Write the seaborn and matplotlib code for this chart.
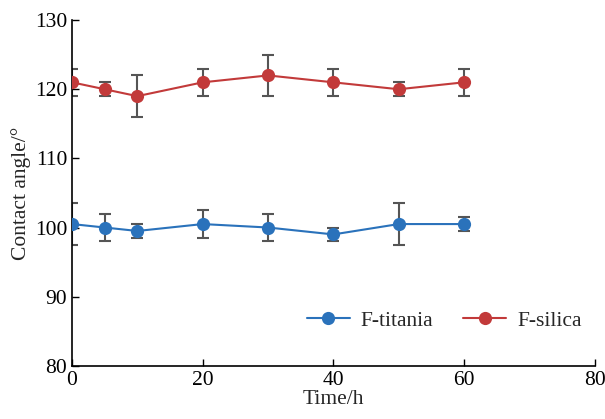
import numpy as np
import pandas as pd
import seaborn as sns
import matplotlib.pyplot as plt

time_h = [0, 5, 10, 20, 30, 40, 50, 60]
titania = [100.5, 100, 99.5, 100.5, 100, 99, 100.5, 100.5]
titania_err = [3, 2, 1, 2, 2, 1, 3, 1]
silica = [121, 120, 119, 121, 122, 121, 120, 121]
silica_err = [2, 1, 3, 2, 3, 2, 1, 2]

sns.set_style('ticks')
plt.rcParams['font.family'] = ['Liberation Serif', 'DejaVu Serif']
plt.rcParams['xtick.direction'] = 'in'
plt.rcParams['ytick.direction'] = 'in'

df = pd.DataFrame({
    'time': time_h * 2,
    'angle': titania + silica,
    'err': titania_err + silica_err,
    'sample': ['F-titania'] * len(time_h) + ['F-silica'] * len(time_h),
})
colors = {'F-titania': '#2a72bb', 'F-silica': '#c23a3a'}

fig = plt.figure(figsize=(6.05, 4.19), dpi=100)
ax = fig.add_axes([0.119, 0.127, 0.864, 0.825])

for name, sub in df.groupby('sample', sort=False):
    ax.errorbar(sub['time'], sub['angle'], yerr=sub['err'], fmt='none',
                ecolor='#555555', elinewidth=1.5, capsize=4, capthick=1.5, zorder=2)
sns.lineplot(data=df, x='time', y='angle', hue='sample', palette=colors,
             marker='o', markersize=9.5, markeredgewidth=0, linewidth=1.5,
             ax=ax, zorder=3)

ax.set_xlim(0, 80)
ax.set_ylim(80, 130)
ax.set_xticks([0, 20, 40, 60, 80])
ax.set_yticks([80, 90, 100, 110, 120, 130])
ax.tick_params(labelsize=15.5, length=5, width=1, colors='black')
ax.set_xlabel('Time/h', fontsize=15.5, labelpad=0)
ax.set_ylabel('Contact angle/°', fontsize=15.5, labelpad=3)
for s in ['top', 'right']:
    ax.spines[s].set_visible(False)
for s in ['left', 'bottom']:
    ax.spines[s].set_linewidth(1.2)
    ax.spines[s].set_color('black')

ax.legend(loc='lower right', ncol=2, frameon=False, fontsize=15.5,
          bbox_to_anchor=(1.012, 0.045), handlelength=2.0, columnspacing=1.4,
          handletextpad=0.5)

fig.savefig('out.png', dpi=100)
